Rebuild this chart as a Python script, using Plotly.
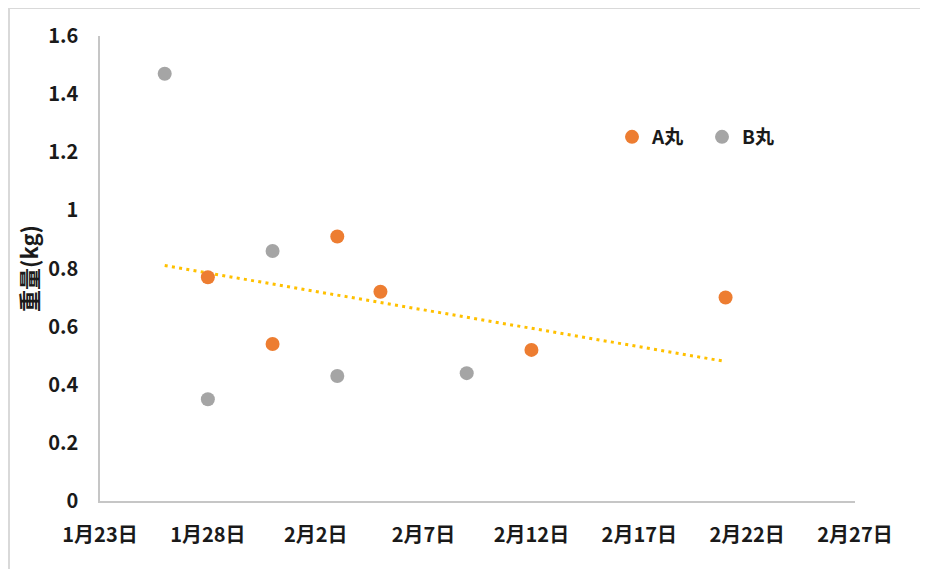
import plotly.graph_objects as go

# ---- data ----
a_dates = ["2024-01-28", "2024-01-31", "2024-02-03", "2024-02-05", "2024-02-12", "2024-02-21"]
a_weights = [0.77, 0.54, 0.91, 0.72, 0.52, 0.70]

b_dates = ["2024-01-26", "2024-01-28", "2024-01-31", "2024-02-03", "2024-02-09"]
b_weights = [1.47, 0.35, 0.86, 0.43, 0.44]

trend_dates = ["2024-01-26", "2024-02-21"]
trend_weights = [0.81, 0.48]

x_tickvals = ["2024-01-23", "2024-01-28", "2024-02-02", "2024-02-07",
              "2024-02-12", "2024-02-17", "2024-02-22", "2024-02-27"]
x_ticktext = ["1月23日", "1月28日", "2月2日", "2月7日",
              "2月12日", "2月17日", "2月22日", "2月27日"]
y_tickvals = [0, 0.2, 0.4, 0.6, 0.8, 1.0, 1.2, 1.4, 1.6]
y_ticktext = ["0", "0.2", "0.4", "0.6", "0.8", "1", "1.2", "1.4", "1.6"]

FONT = "Noto Sans CJK JP"
AXIS_COLOR = "#c6c6c6"
TEXT_COLOR = "#1a1a1a"
FRAME_COLOR = "#d9d9d9"

# page offset of the figure (browser default body margin)
OX, OY = 8, 8
W, H = 928, 569
# plot area in screen pixels: x 100..855, y 36..501
L = 100 - OX
T = 36 - OY
R = W - (855 - OX)
B = H - (501 - OY)
pw, ph = W - L - R, H - T - B


def px_x(screen_x):
    return (screen_x - OX - L) / pw


def px_y(screen_y):
    return (H - B - (screen_y - OY)) / ph


fig = go.Figure()
fig.add_trace(go.Scatter(
    x=trend_dates, y=trend_weights, mode="lines",
    line=dict(color="#FFC000", width=3, dash="3px,4.3px"),
    showlegend=False, hoverinfo="skip"))
fig.add_trace(go.Scatter(
    x=a_dates, y=a_weights, mode="markers", name="A丸",
    marker=dict(color="#ED7D31", size=14)))
fig.add_trace(go.Scatter(
    x=b_dates, y=b_weights, mode="markers", name="B丸",
    marker=dict(color="#A5A5A5", size=14)))

fig.update_layout(
    width=W, height=H,
    margin=dict(l=L, r=R, t=T, b=B),
    paper_bgcolor="white", plot_bgcolor="white",
    font=dict(family=FONT, color=TEXT_COLOR),
    xaxis=dict(
        type="date", range=[x_tickvals[0], x_tickvals[-1]],
        tickmode="array", tickvals=x_tickvals, ticktext=x_ticktext,
        showgrid=False, zeroline=False, showline=True,
        linecolor=AXIS_COLOR, linewidth=2, ticks="",
        tickfont=dict(family=FONT, size=20, color=TEXT_COLOR, weight="bold"),
        ticklabelstandoff=15,
    ),
    yaxis=dict(
        range=[0, 1.6], tickmode="array", tickvals=y_tickvals, ticktext=y_ticktext,
        showgrid=False, zeroline=False, showline=True,
        linecolor=AXIS_COLOR, linewidth=1.5, ticks="",
        tickfont=dict(family=FONT, size=20, color=TEXT_COLOR, weight="bold"),
        ticklabelstandoff=16,
        title=dict(text="重量(kg)", standoff=3,
                   font=dict(family=FONT, size=22, color=TEXT_COLOR, weight="bold")),
    ),
    legend=dict(
        orientation="h", x=px_x(612), xanchor="left",
        y=px_y(137), yanchor="middle",
        entrywidth=45,
        font=dict(family=FONT, size=19, color=TEXT_COLOR, weight="bold"),
        bgcolor="rgba(0,0,0,0)",
    ),
    shapes=[
        dict(type="line", xref="paper", yref="paper",
             x0=px_x(9), x1=px_x(1200), y0=px_y(8), y1=px_y(8),
             line=dict(color=FRAME_COLOR, width=2), layer="below"),
        dict(type="line", xref="paper", yref="paper",
             x0=px_x(9), x1=px_x(9), y0=px_y(8), y1=px_y(900),
             line=dict(color=FRAME_COLOR, width=2), layer="below"),
    ],
)

fig.write_html("out.html")
